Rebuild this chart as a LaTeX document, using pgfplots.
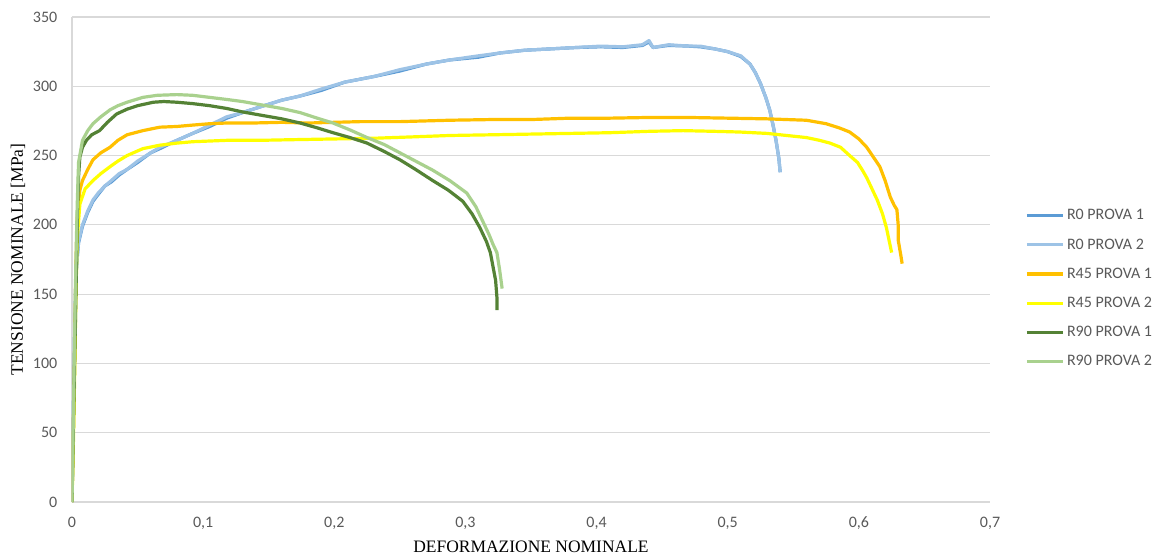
\documentclass[border=0pt]{standalone}
\usepackage{pgfplots}
\pgfplotsset{compat=1.18}
\usepackage{fontspec}
\setmainfont{Liberation Serif}
\newfontfamily\calibri{Carlito}
\definecolor{rzeroa}{HTML}{5B9BD5}
\definecolor{rzerob}{HTML}{9DC3E6}
\definecolor{rfortya}{HTML}{FFC000}
\definecolor{rfortyb}{HTML}{FFFF00}
\definecolor{rninetya}{HTML}{548235}
\definecolor{rninetyb}{HTML}{A9D18E}
\definecolor{tickgray}{HTML}{595959}
\definecolor{gridgray}{HTML}{D9D9D9}
\begin{document}
\begin{tikzpicture}
\useasboundingbox (-54pt,-42pt) rectangle (815.25pt,376.5pt);
\begin{axis}[
  at={(0pt,0pt)}, anchor=south west,
  scale only axis, width=688.5pt, height=363.75pt,
  xmin=0, xmax=0.7, ymin=0, ymax=350,
  xtick={0,0.1,0.2,0.3,0.4,0.5,0.6,0.7},
  ytick={0,50,100,150,200,250,300,350},
  axis x line=bottom, axis y line=left,
  axis line style={draw=gridgray, line width=0.8pt, -},
  ymajorgrids, grid style={draw=gridgray, line width=0.8pt},
  major tick length=0pt,
  tick label style={font=\calibri\fontsize{12}{14}\selectfont, text=tickgray},
  x tick label style={yshift=-7.5pt},
  y tick label style={xshift=-7.5pt},
  /pgf/number format/.cd, use comma, 1000 sep={}, assume math mode=true,
  /pgfplots/.cd,
  xlabel={DEFORMAZIONE NOMINALE},
  ylabel={TENSIONE NOMINALE [MPa]},
  label style={font=\fontsize{13.1}{15}\selectfont, text=black},
  xlabel style={at={(axis description cs:0.5,-0.0928)}, anchor=center},
  ylabel style={at={(axis description cs:-0.0588,0.5)}, anchor=center},
  legend style={at={(1.038,0.44)}, anchor=west, draw=none, fill=none,
    font=\calibri\fontsize{12}{14}\selectfont, text=tickgray,
    row sep=8.6pt, inner sep=0pt},
  legend cell align=left,
  legend image code/.code={\draw[#1] (0pt,0pt) -- (27pt,0pt);},
  every axis plot/.append style={line width=2.4pt, line join=round, mark=none},
]
\addplot[color=rzeroa] coordinates {
(0,0) (0.001,60) (0.002,120) (0.003,165) (0.005,187) (0.008,199) (0.012,209) (0.016,217)
(0.02,222) (0.025,228) (0.03,231) (0.036,236) (0.042,240) (0.05,245) (0.06,252) (0.067,255)
(0.08,261) (0.092,266) (0.105,271) (0.118,277) (0.13,281) (0.143,285) (0.16,290) (0.174,293)
(0.19,297) (0.208,303) (0.23,307) (0.25,311) (0.27,316) (0.288,319) (0.31,321) (0.326,324)
(0.345,326) (0.365,327) (0.385,328) (0.403,328.5) (0.42,328) (0.435,329.5) (0.44,332) (0.443,328)
(0.455,329.5) (0.47,329) (0.479,328.5) (0.49,327) (0.5,325) (0.51,321.5) (0.517,316) (0.521,310)
(0.525,302) (0.529,292) (0.532,283) (0.535,270) (0.537,260) (0.539,248) (0.540,238)};
\addlegendentry{R0 PROVA 1}
\addplot[color=rzerob] coordinates {
(0,0) (0.001,60) (0.002,120) (0.003,165) (0.005,188) (0.008,200) (0.012,210) (0.016,218)
(0.02,223) (0.025,228) (0.03,232) (0.036,237) (0.042,240) (0.05,246) (0.06,252) (0.067,256)
(0.08,261) (0.092,266) (0.105,272) (0.118,278) (0.13,281) (0.143,285) (0.16,290) (0.174,293)
(0.19,298) (0.208,303) (0.23,307) (0.25,312) (0.27,316) (0.288,319) (0.31,322) (0.326,324)
(0.345,326) (0.365,327) (0.385,328) (0.403,329) (0.42,328.5) (0.435,330) (0.44,333) (0.443,328)
(0.455,330) (0.47,329) (0.479,329) (0.49,327) (0.5,325) (0.51,322) (0.517,316) (0.521,310)
(0.525,302) (0.529,292) (0.532,283) (0.535,270) (0.537,260) (0.539,248) (0.540,238)};
\addlegendentry{R0 PROVA 2}
\addplot[color=rfortya] coordinates {
(0,0) (0.001,50) (0.002,110) (0.003,170) (0.004,205) (0.006,225) (0.008,232) (0.012,240)
(0.016,247) (0.022,252) (0.029,256) (0.035,261) (0.042,265) (0.054,268) (0.067,270.5) (0.08,271)
(0.092,272) (0.105,273) (0.118,273.5) (0.138,273.5) (0.16,274) (0.18,273.5) (0.2,274) (0.22,274.5)
(0.25,274.5) (0.288,275.5) (0.32,276) (0.35,276) (0.38,277) (0.41,277) (0.44,277.5) (0.47,277.5)
(0.5,277) (0.53,276.5) (0.56,275.5) (0.575,273) (0.585,270) (0.593,267) (0.6,262) (0.606,256)
(0.611,249) (0.616,242) (0.620,232) (0.624,220) (0.627,214) (0.629,211) (0.630,200) (0.630,189)
(0.632,178) (0.633,172)};
\addlegendentry{R45 PROVA 1}
\addplot[color=rfortyb] coordinates {
(0,0) (0.001,40) (0.002,90) (0.003,150) (0.004,190) (0.006,215) (0.01,226) (0.016,232)
(0.022,237) (0.029,242) (0.035,246) (0.042,250) (0.054,255) (0.067,257.5) (0.08,259) (0.092,260)
(0.105,260.5) (0.118,261) (0.143,261) (0.17,261.5) (0.2,262) (0.23,262.5) (0.26,263.5) (0.288,264.5)
(0.32,265) (0.35,265.5) (0.38,266) (0.41,266.5) (0.44,267.5) (0.466,268) (0.49,267.5) (0.509,267)
(0.53,266) (0.55,264) (0.56,263) (0.57,261) (0.578,259) (0.586,256) (0.593,250) (0.599,245)
(0.603,239) (0.606,234) (0.61,226) (0.614,218) (0.618,208) (0.621,198) (0.623,189) (0.625,180)};
\addlegendentry{R45 PROVA 2}
\addplot[color=rninetya] coordinates {
(0,0) (0.001,50) (0.002,100) (0.003,150) (0.004,200) (0.005,235) (0.006,249) (0.008,256)
(0.011,261) (0.015,265) (0.021,268) (0.027,274) (0.034,280) (0.042,283.5) (0.05,286) (0.062,288.5)
(0.07,289) (0.08,288.5) (0.092,287.5) (0.105,286) (0.118,284) (0.13,281.5) (0.145,279) (0.16,276.5)
(0.174,273.5) (0.187,270) (0.199,266.5) (0.212,263) (0.225,259) (0.238,253) (0.25,247) (0.262,240)
(0.275,232) (0.287,225) (0.298,217) (0.305,208) (0.311,198) (0.316,188) (0.319,180) (0.321,170)
(0.323,160) (0.324,148) (0.324,138.5)};
\addlegendentry{R90 PROVA 1}
\addplot[color=rninetyb] coordinates {
(0,0) (0.001,60) (0.002,120) (0.003,175) (0.004,215) (0.005,245) (0.008,261) (0.012,268)
(0.016,273) (0.022,278) (0.029,283) (0.035,286) (0.042,288.5) (0.054,292) (0.065,293.5) (0.08,294)
(0.092,293.5) (0.105,292) (0.118,290.5) (0.13,289) (0.145,286.5) (0.16,284) (0.174,281) (0.187,277)
(0.199,273.5) (0.212,268.5) (0.225,263) (0.238,258) (0.25,252) (0.262,246) (0.275,239.5) (0.288,232)
(0.301,223) (0.308,213) (0.313,203) (0.318,193) (0.321,186) (0.324,180) (0.326,168) (0.328,154)};
\addlegendentry{R90 PROVA 2}
\end{axis}
\end{tikzpicture}
\end{document}
